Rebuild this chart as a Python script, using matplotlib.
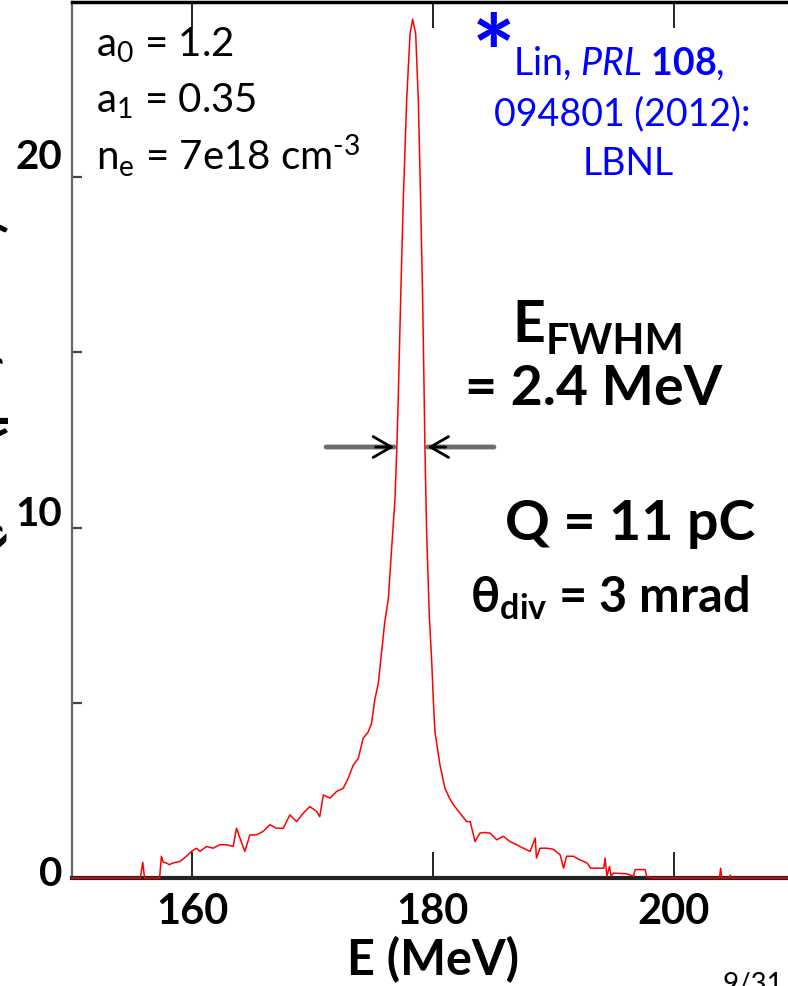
import numpy as np
import matplotlib.pyplot as plt

plt.rcParams['font.family'] = ['Lato', 'DejaVu Sans']
plt.rcParams['mathtext.fontset'] = 'custom'
plt.rcParams['mathtext.rm'] = 'Lato'
plt.rcParams['mathtext.it'] = 'Lato:italic'
plt.rcParams['mathtext.bf'] = 'Lato:bold'

# spectrum: energy (MeV) and charge density
energy = [150.0, 155.7, 155.9, 156.05, 157.3, 157.45, 157.6, 157.87, 158.1, 158.42,
          158.98, 159.53, 159.95, 160.37, 160.65, 161.2, 161.75, 162.3, 162.86, 163.41,
          163.69, 163.97, 164.38, 164.8, 165.35, 165.9, 166.46, 167.0, 167.57, 168.12,
          168.68, 169.23, 169.78, 170.34, 170.6, 170.9, 171.45, 172.0, 172.55, 172.97,
          173.38, 173.8, 174.2, 174.63, 174.9, 175.19, 175.46, 175.74, 176.0, 176.3,
          176.57, 176.85, 177.0, 177.12, 177.32, 177.54, 177.82, 178.1, 178.32, 178.57,
          178.79, 178.98, 179.15, 179.28, 179.34, 179.48, 179.7, 179.9, 180.03, 180.17,
          180.59, 181.0, 181.35, 181.7, 182.25, 182.8, 183.1, 183.5, 183.9, 184.3,
          184.75, 185.3, 185.85, 186.4, 186.96, 187.5, 188.07, 188.5, 188.6, 188.9,
          189.46, 190.0, 190.57, 190.85, 191.1, 191.67, 192.2, 192.8, 193.1, 194.2,
          194.3, 194.45, 194.67, 194.8, 195.0, 196.1, 196.66, 196.8, 197.63, 197.77,
          198.3, 203.8, 203.9, 204.0, 204.6, 204.7, 204.8, 210.0]
charge = [0, 0, 0.45, 0, 0, 0.62, 0.45, 0.43, 0.38, 0.43,
          0.47, 0.62, 0.76, 0.85, 0.76, 0.90, 0.85, 0.95, 0.95, 0.90,
          1.42, 1.14, 0.76, 1.23, 1.23, 1.33, 1.52, 1.42, 1.42, 1.80,
          1.61, 1.85, 2.04, 1.90, 1.75, 2.37, 2.28, 2.47, 2.56, 2.85,
          3.22, 3.41, 3.98, 4.17, 4.41, 5.12, 5.55, 6.45, 7.30, 7.97,
          9.39, 10.81, 12.23, 13.66, 16.5, 19.35, 22.19, 24.09, 24.51, 24.09,
          22.19, 19.35, 16.5, 13.66, 12.23, 9.86, 7.49, 6.2, 5.12, 4.17,
          3.22, 2.56, 2.3, 2.09, 1.85, 1.61, 1.61, 1.04, 1.28, 1.30,
          1.28, 1.09, 1.19, 1.04, 0.95, 0.85, 0.76, 1.14, 0.57, 0.85,
          0.85, 0.82, 0.66, 0.28, 0.62, 0.62, 0.52, 0.43, 0.28, 0.28,
          0.57, 0.05, 0.33, 0.05, 0.14, 0.12, 0.05, 0.24, 0.24, 0.03,
          0, 0, 0.28, 0, 0, 0.08, 0, 0]

xticks = [160, 180, 200]
yticks = [0, 5, 10, 15, 20]
ytick_labels = {0: '0', 10: '10', 20: '20'}

# FWHM arrows (left and right), in data units
fwhm_left = 177.0
fwhm_right = 179.34
fwhm_level = 12.3

W, H = 788, 987

def px(x, y):
    # pixel position (from top-left) to figure fraction
    return x / W, 1 - y / H

fig = plt.figure(figsize=(W / 100, H / 100), dpi=100)
# axes runs past the right edge of the figure like the cropped slide
ax = fig.add_axes([71.7 / W, 108 / H, 722.4 / W, 876 / H])

ax.plot(energy, charge, color='red', lw=1.1, zorder=5, clip_on=False)

ax.set_xlim(150, 210)
ax.set_ylim(0, 25)

ax.spines['bottom'].set_linewidth(3.0)
ax.spines['bottom'].set_color('#222222')
ax.spines['top'].set_linewidth(2.5)
ax.spines['top'].set_color('black')
ax.spines['left'].set_linewidth(1.6)
ax.spines['left'].set_color('#666666')
ax.spines['right'].set_visible(False)

ax.set_xticks(xticks)
ax.set_xticklabels([str(t) for t in xticks], fontsize=30, fontweight='bold')
ax.tick_params(axis='x', direction='in', length=19, width=1.2, color='black',
               top=True, pad=10)
ax.set_yticks(yticks)
ax.set_yticklabels(['' for t in yticks])
ax.tick_params(axis='y', direction='in', length=7, width=1.6, color='#444444')

# y tick labels sit a little above their ticks in the original
ylab_shift = {0: 4, 10: 14, 20: 21}
for t, lab in ytick_labels.items():
    yp = 879 - t * 35.04 - ylab_shift[t]
    fig.text(*px(62, yp), lab, fontsize=29, fontweight='bold', ha='right', va='center')

fig.text(*px(433, 960), 'E (MeV)', fontsize=35, fontweight='bold', ha='center', va='center')
fig.text(*px(723, 993), '9/31', fontsize=20, ha='left', va='baseline')

# y label mostly cut off at the left edge
fig.text(*px(-15, 410), 'dQ/dE (pC/MeV)', fontsize=36, fontweight='bold',
         rotation=90, ha='center', va='center')

# FWHM arrows: grey shaft, black open head
arrow_head = dict(arrowstyle='->,head_length=1.3,head_width=0.75', color='black', lw=2)
ax.annotate('', xy=(fwhm_left, fwhm_level), xytext=(170.9, fwhm_level),
            arrowprops=dict(arrowstyle='-', color='#6e6e6e', lw=3.5))
ax.annotate('', xy=(fwhm_left, fwhm_level), xytext=(175.0, fwhm_level), arrowprops=arrow_head)
ax.annotate('', xy=(fwhm_right, fwhm_level), xytext=(185.3, fwhm_level),
            arrowprops=dict(arrowstyle='-', color='#6e6e6e', lw=3.5))
ax.annotate('', xy=(fwhm_right, fwhm_level), xytext=(181.3, fwhm_level), arrowprops=arrow_head)

# parameters, top left
fig.text(*px(96, 57), r'a$_\mathrm{0}$ = 1.2', fontsize=29, va='baseline')
fig.text(*px(96, 113), r'a$_\mathrm{1}$ = 0.35', fontsize=29, va='baseline')
fig.text(*px(96, 170), r'n$_\mathrm{e}$ = 7e18 cm$^\text{-3}$', fontsize=29, va='baseline')

# citation, top right
fig.text(*px(494, 90), '*', fontsize=74, fontweight='bold', color='blue', ha='center', va='baseline')
fig.text(*px(619, 75), r'Lin, $\mathit{PRL}$ $\mathbf{108}$,', fontsize=27, color='blue',
         ha='center', va='baseline')
fig.text(*px(622, 125), '094801 (2012):', fontsize=27, color='blue', ha='center', va='baseline')
fig.text(*px(628, 175), 'LBNL', fontsize=27, color='blue', ha='center', va='baseline')

# beam numbers
fig.text(*px(512, 342), 'E', fontsize=41, fontweight='bold', ha='left', va='baseline')
fig.text(*px(546, 354), 'FWHM', fontsize=30, fontweight='bold', ha='left', va='baseline')
fig.text(*px(465, 405), '= 2.4 MeV', fontsize=40, fontweight='bold', ha='left', va='baseline')
fig.text(*px(505, 540), 'Q = 11 pC', fontsize=40, fontweight='bold', ha='left', va='baseline')
fig.text(*px(470, 612), r'$\mathbf{\theta_{div}}$ = 3 mrad', fontsize=35, fontweight='bold',
         ha='left', va='baseline')

fig.savefig('out.png', dpi=100)
